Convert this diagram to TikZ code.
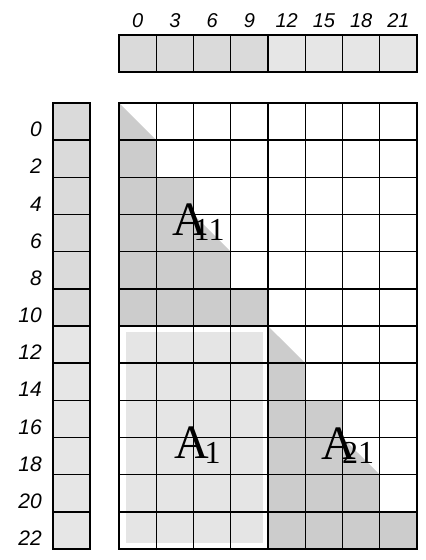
\documentclass[tikz,border=0pt]{standalone}
\usepackage{fontspec}
\setmainfont{Liberation Serif}
\newfontfamily\lsans{Liberation Sans}
\definecolor{bardark}{HTML}{DADADA}
\definecolor{barlight}{HTML}{E6E6E6}
\definecolor{shadedark}{HTML}{CCCCCC}
\definecolor{shadelight}{HTML}{E5E5E5}
\begin{document}
\begin{tikzpicture}[x=1pt,y=-1pt,
  gridline/.style={line width=1.4pt,black},
  outline/.style={line width=2.6pt,black},
  idx/.style={font=\lsans\itshape\fontsize{20}{24}\selectfont,inner sep=0pt},
  idxl/.style={font=\lsans\itshape\fontsize{21}{24}\selectfont,inner sep=0pt},
  bigA/.style={font=\fontsize{48}{50}\selectfont,inner sep=0pt,anchor=base west},
  subA/.style={font=\fontsize{32}{36}\selectfont,inner sep=0pt,anchor=base west}]
\useasboundingbox (0,0) rectangle (426,560);

% top bar
\begin{scope}[shift={(119pt,-35pt)},x=37.25pt,y=-37pt]
  \foreach \i in {0,...,3} \fill[bardark] (\i,0) rectangle ++(1,1);
  \foreach \i in {4,...,7} \fill[barlight] (\i,0) rectangle ++(1,1);
  \foreach \i in {1,...,7} \draw[gridline] (\i,0) -- (\i,1);
  \draw[outline] (0,0) rectangle (8,1);
\end{scope}

% left bar
\begin{scope}[shift={(53pt,-103pt)},x=37pt,y=-37.17pt]
  \foreach \j in {0,...,5} \fill[bardark] (0,\j) rectangle ++(1,1);
  \foreach \j in {6,...,11} \fill[barlight] (0,\j) rectangle ++(1,1);
  \foreach \j in {1,...,11} \draw[gridline] (0,\j) -- (1,\j);
  \draw[outline] (0,0) rectangle (1,12);
\end{scope}

% main grid
\begin{scope}[shift={(119pt,-103pt)},x=37.25pt,y=-37.17pt]
  \fill[shadedark] (0,0) -- (1,1) -- (1,2) -- (2,2) -- (2,3) -- (3,4) -- (3,5) -- (4,5) -- (4,6) -- (0,6) -- cycle;
  \fill[shadedark] (4,6) -- (5,7) -- (5,8) -- (6,8) -- (6,9) -- (7,10) -- (7,11) -- (8,11) -- (8,12) -- (4,12) -- cycle;
  \fill[shadelight] (0.19,6.16) rectangle (3.87,11.84);
  \foreach \i in {1,...,7} \draw[gridline] (\i,0) -- (\i,12);
  \foreach \j in {1,...,11} \draw[gridline] (0,\j) -- (8,\j);
  \draw[outline] (0,0) rectangle (8,12);
\end{scope}

% index labels
\foreach \i in {0,...,7} {
  \pgfmathtruncatemacro{\v}{3*\i}
  \node[idx,anchor=base] (c\i) at ({119+(\i+0.5)*37.25},27) {\v};
}
\foreach \j in {0,...,11} {
  \pgfmathtruncatemacro{\v}{2*\j}
  \node[idxl,anchor=base east] (r\j) at (42,{103+(\j+1)*37.17-3.5}) {\v};
}

% block labels
\node[bigA] (a11) at (172,235) {A};
\node[subA] (a11s) at (193.5,240) {11};
\node[bigA] (a1) at (174,458) {A};
\node[subA] (a1s) at (204.5,463) {1};
\node[bigA] (a21) at (321,459) {A};
\node[subA] (a21s) at (342,463) {21};
\end{tikzpicture}
\end{document}
